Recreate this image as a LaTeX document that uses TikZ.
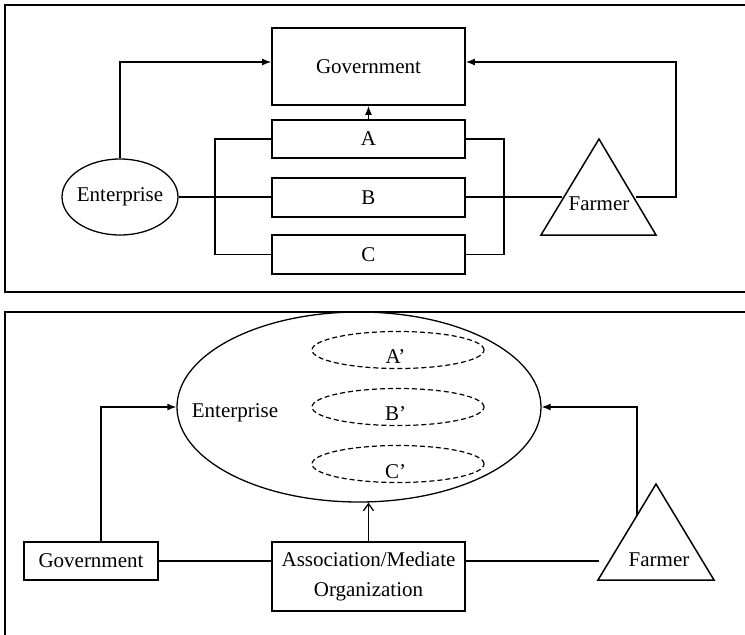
\documentclass[tikz,border=0pt]{standalone}
\usepackage{fontspec}
\setmainfont{Liberation Serif}
\usetikzlibrary{arrows.meta,shapes.geometric,calc}
\begin{document}
\begin{tikzpicture}[x=1pt,y=-1pt,
  every node/.style={font=\fontsize{21}{30}\selectfont, inner sep=0pt},
  rbox/.style={draw, line width=1.8pt, minimum width=193pt, minimum height=38pt},
  conn/.style={line width=1.3pt},
  arr/.style={conn, -{Latex[length=9pt,width=7pt]}},
  oarr/.style={conn, -{Straight Barb[length=7pt,width=10pt]}},
  panel/.style={line width=2.2pt},
  tri/.style={draw, line width=1.5pt, line join=miter},
  sell/.style={draw, ellipse, line width=1.3pt},
  dell/.style={draw, ellipse, line width=1.2pt, dash pattern=on 5pt off 3pt,
               minimum width=172pt, minimum height=37pt}
]
\useasboundingbox (0,0) rectangle (745,635);

% panels
\draw[panel] (746,5) -- (5,5) -- (5,292) -- (746,292);
\draw[panel] (746,312) -- (5,312) -- (5,636);

% ---------- top panel ----------
\node[rbox, minimum height=77pt] (gov1) at (368.5,66.5) {Government};
\node[rbox] (A) at (368.5,139) {A};
\node[rbox, minimum height=39pt] (B) at (368.5,197.5) {B};
\node[rbox, minimum height=39pt] (C) at (368.5,254.5) {C};
\node[sell, minimum width=116pt, minimum height=76pt] (ent1) at (120,197) {\makebox[0pt]{Enterprise}};
\draw[tri] (599,139) -- (656,235) -- (541,235) -- cycle;
\node (farmer1) at (599,203.5) {Farmer};
\coordinate (f1L) at (562,197);
\coordinate (f1R) at (636,197);

\draw[arr] (ent1.north) |- ([yshift=4.5pt]gov1.west);
\draw[arr] (A.north) -- (gov1.south);
\draw[conn] (ent1.east) -- (B.west |- ent1.east);
\draw[conn] (A.west) -- ++(-56,0) |- (C.west);
\draw[conn] (A.east) -- ++(38,0) |- (C.east);
\draw[conn] (B.east |- f1L) -- (f1L);
\draw[arr] (f1R) -- ++(40,0) |- ([yshift=4.5pt]gov1.east);

% ---------- bottom panel ----------
\node[sell, minimum width=364pt, minimum height=190pt] (bigEnt) at (359,407) {};
\node (entlab) at (235,413) {Enterprise};
\node[dell] (Ap) at (398,350) {};
\node[dell] (Bp) at (398,407) {};
\node[dell] (Cp) at (398,464) {};
\node (Aplab) at (395.5,357) {A’};
\node (Bplab) at (395.5,414) {B’};
\node (Cplab) at (395.5,472) {C’};

\node[rbox, minimum width=134pt] (gov2) at (91,561) {Government};
\node[rbox, minimum height=69pt, align=center] (assoc) at (368.5,576.5) {Association/Mediate\\Organization};
\draw[tri] (656,484) -- (714,580) -- (598,580) -- cycle;
\node (farmer2) at (659,559.5) {Farmer};
\coordinate (f2L) at (599,561);
\coordinate (f2U) at (637,516);

\draw[arr] ([xshift=10pt]gov2.north) |- (bigEnt.west);
\draw[arr] (f2U) |- (bigEnt.east);
\draw[oarr] (assoc.north) -- (assoc.north |- bigEnt.south);
\draw[conn] (gov2.east) -- (gov2.east -| assoc.west);
\draw[conn] (f2L -| assoc.east) -- (f2L);
\end{tikzpicture}
\end{document}
